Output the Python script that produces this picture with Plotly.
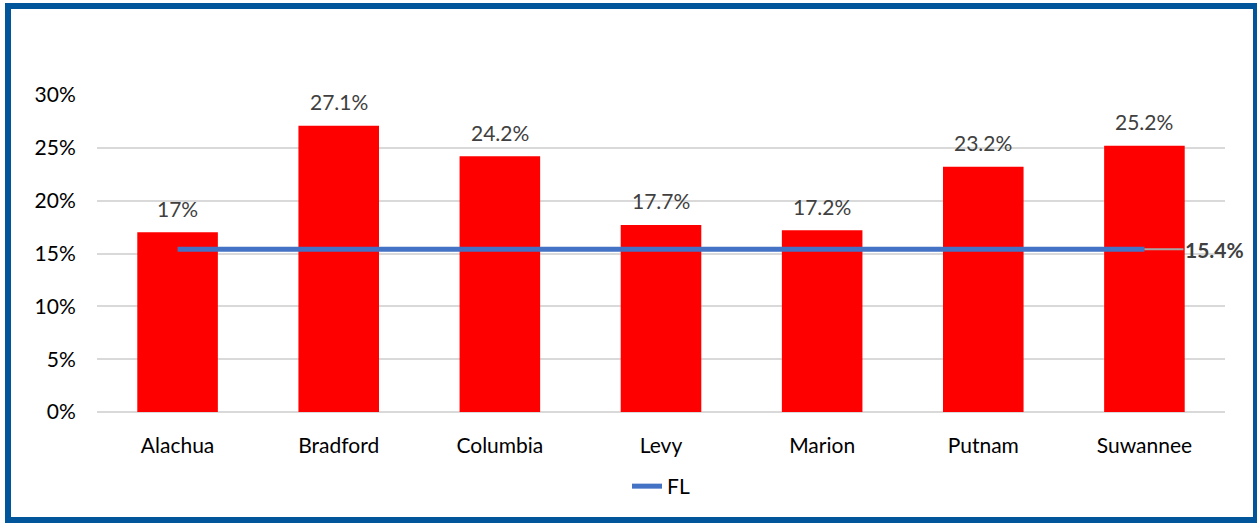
import plotly.graph_objects as go

# Data
counties = ["Alachua", "Bradford", "Columbia", "Levy", "Marion", "Putnam", "Suwannee"]
county_pct = [17, 27.1, 24.2, 17.7, 17.2, 23.2, 25.2]
county_labels = ["17%", "27.1%", "24.2%", "17.7%", "17.2%", "23.2%", "25.2%"]
fl_pct = [15.4] * len(counties)
fl_label = "15.4%"
y_ticks = [0, 5, 10, 15, 20, 25, 30]
y_tick_text = ["0%", "5%", "10%", "15%", "20%", "25%", "30%"]

FONT = "Lato, Noto Sans, sans-serif"
FS = 21

fig = go.Figure()

fig.add_trace(go.Bar(
    x=counties, y=county_pct,
    marker=dict(color="#FF0000", line=dict(width=0)),
    width=0.5,
    showlegend=False,
    hoverinfo="skip",
))

fig.add_trace(go.Scatter(
    x=counties, y=fl_pct,
    mode="lines", name="FL",
    line=dict(color="#4472C4", width=5),
))

# data labels above bars
for c, v, t in zip(counties, county_pct, county_labels):
    fig.add_annotation(
        x=c, y=v, text=t, showarrow=False, yanchor="middle", yshift=24,
        font=dict(family=FONT, size=FS, color="#404040"),
    )

# FL value label with gray leader line
fig.add_annotation(
    x=counties[-1], y=fl_pct[-1], text="<b>" + fl_label + "</b>",
    showarrow=True, arrowhead=0, arrowwidth=2, arrowcolor="#A6A6A6",
    ax=70, ay=0, standoff=0,
    font=dict(family=FONT, size=FS, color="#404040"),
)

# outer border
fig.add_shape(
    type="rect", xref="paper", yref="paper",
    x0=-89 / 1128, x1=1159 / 1128, y0=-108 / 317, y1=1 + 89 / 317,
    line=dict(color="#00559B", width=6), layer="above",
)

fig.update_layout(
    width=1257, height=523,
    paper_bgcolor="white", plot_bgcolor="white",
    margin=dict(l=97, r=32, t=95, b=111),
    font=dict(family=FONT, size=FS, color="#000000"),
    bargap=0.5,
    legend=dict(
        orientation="h", x=0.5, xanchor="center", y=-0.235, yanchor="middle",
        font=dict(family=FONT, size=FS, color="#000000"),
        bgcolor="rgba(0,0,0,0)",
    ),
    xaxis=dict(
        range=[-0.5, len(counties) - 0.5],
        showgrid=False, showline=False, zeroline=False,
        ticks="outside", ticklen=15, tickcolor="rgba(0,0,0,0)",
        tickfont=dict(family=FONT, size=FS, color="#000000"),
    ),
    yaxis=dict(
        range=[0, 30], tickmode="array", tickvals=y_ticks, ticktext=y_tick_text,
        showgrid=True, gridcolor="#D9D9D9", gridwidth=2,
        zeroline=True, zerolinecolor="#D9D9D9", zerolinewidth=2,
        showline=False,
        ticks="outside", ticklen=16, tickcolor="rgba(0,0,0,0)",
        tickfont=dict(family=FONT, size=FS, color="#000000"),
    ),
)

fig.write_html(
    "out.html",
    config={"displayModeBar": False},
    post_script="document.body.style.margin='0';",
)
